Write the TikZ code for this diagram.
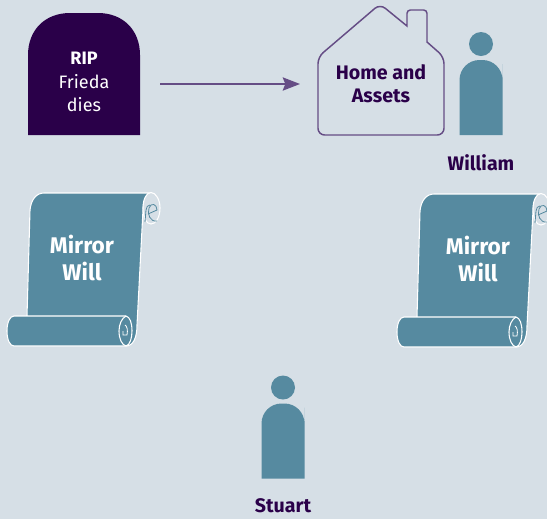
\documentclass[tikz,border=0pt]{standalone}
\usepackage{fontspec}
\setmainfont{Fira Sans}
\usetikzlibrary{arrows.meta}
\definecolor{bgblue}{HTML}{D6DFE6}
\definecolor{tealblue}{HTML}{568AA0}
\definecolor{darkplum}{HTML}{2A0049}
\definecolor{midplum}{HTML}{654D85}
\tikzset{
  scrollline/.style={draw=white, line width=0.8pt},
  scrollcurl/.style={draw=white, line width=0.6pt},
  labeltext/.style={font=\fontsize{14.7}{17}\selectfont\bfseries, text=darkplum, align=center},
  scrolltext/.style={font=\fontsize{17}{20}\selectfont\bfseries, text=white, align=center},
  person/.pic={
    \fill[tealblue] (0,0) circle (9pt);
    \fill[tealblue, rounded corners=15pt] (-21.5,91) -- (-21.5,16) -- (21.5,16) -- (21.5,40) [sharp corners] -- (21.5,91) -- cycle;
  }
}
\begin{document}
\begin{tikzpicture}[x=0.75pt, y=-0.75pt]
  \fill[bgblue] (0,0) rectangle (547,519);
  \useasboundingbox (0,0) rectangle (547,519);
  % gravestone
  \fill[darkplum] (28,135) -- (28,55) .. controls (28,30) and (45,13) .. (70,13) -- (98,13) .. controls (123,13) and (140,30) .. (140,55) -- (140,135) -- cycle;
  \node[font=\fontsize{13.5}{17.5}\selectfont, text=white, align=center] (rip) at (84,82) {\textbf{RIP}\\Frieda\\dies};
  % house
  \draw[midplum, line width=1.1pt, rounded corners=5pt] (318,135) -- (318,57) -- (380,4) [sharp corners] -- (407,26) [rounded corners=2.5pt] -- (407,10) -- (427,10) [sharp corners] -- (427,42) [rounded corners=5pt] -- (444,57) -- (444,135) -- cycle;
  \node[labeltext] (home) at (381,84) {Home and\\Assets};
  % arrow
  \coordinate (arrowstart) at (160,84);
  \coordinate (arrowend) at (300,84);
  \draw[midplum, line width=1.1pt, -{Stealth[length=13pt, width=10pt, inset=2pt]}] (arrowstart) -- (arrowend);
  % people
  \pic at (481,44) {person};
  \node[labeltext] (william) at (481,163) {William};
  \pic at (283,387.5) {person};
  \node[labeltext] (stuart) at (283,506) {Stuart};
  % wills
  \foreach \sx/\sy/\tx/\nm in {0/0/82/willleft, 390/1/88/willright}{
    \begin{scope}[shift={(\sx,\sy)}]
      \filldraw[fill=tealblue, scrollline] (27,316) -- (30,210) .. controls (31,200) and (36,193) .. (44,193) -- (150,193) .. controls (146,196) and (143,202) .. (143,210) -- (137,325) .. controls (137,338) and (133,346) .. (126,346) -- (14,346) .. controls (10,346) and (7,340) .. (7,331) .. controls (7,322) and (10,316) .. (14,316) -- (126,316);
      \draw[scrollline] (126,316) .. controls (122,318) and (119,324) .. (119,331) .. controls (119,339) and (122,345) .. (126,346) .. controls (130,345) and (132,338) .. (132,331) .. controls (132,323) and (130,317) .. (126,316);
      \draw[scrollcurl] (123,331) -- (123,335) -- (127,335) .. controls (128,330) and (127,326) .. (125,325);
      \filldraw[fill=bgblue, scrollline] (151,192.5) .. controls (156,192.5) and (160,200) .. (160,208) .. controls (160,217) and (156,224) .. (151,224) .. controls (146,224) and (143,217) .. (143,208) .. controls (143,200) and (146,192.5) .. (151,192.5);
      \draw[scrollcurl, draw=tealblue] (145,222) -- (146,210) .. controls (146,207) and (148,205) .. (150,205);
      \draw[scrollcurl, draw=tealblue] (148,214) -- (157,210) .. controls (157,204) and (151,202) .. (149,208) .. controls (147,214) and (150,222) .. (157,221);
      \node[scrolltext] (\nm) at (\tx,258) {Mirror\\Will};
    \end{scope}
  }
\end{tikzpicture}
\end{document}
